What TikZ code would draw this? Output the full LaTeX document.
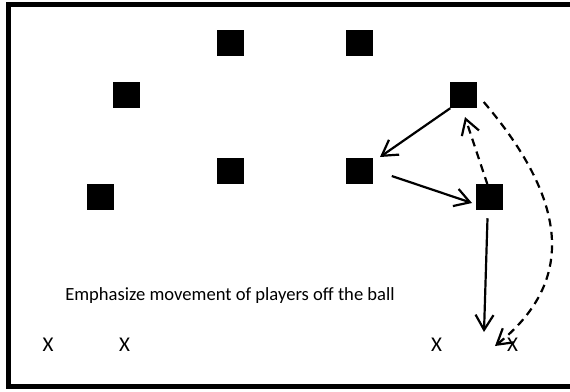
\documentclass[tikz,border=0pt]{standalone}
\usepackage{fontspec}
\setmainfont{Carlito}
\usetikzlibrary{arrows.meta}
\begin{document}
\begin{tikzpicture}[x=1pt,y=-1pt,
  player/.style={fill=black,draw=none,minimum size=26.5pt,inner sep=0pt,outer sep=0pt},
  oppmark/.style={font=\fontsize{21}{21}\selectfont,inner sep=0pt},
  run/.style={line width=2.2pt,-{Straight Barb[length=15pt,width=18pt,line width=2.2pt]}},
  rund/.style={run,dash pattern=on 8pt off 5.5pt}]
  \useasboundingbox (0,0) rectangle (570,391);
  \clip (0,0) rectangle (570,391);
  % field boundary, open on the right
  \draw[line width=5pt] (620,4.5) -- (8.5,4.5) -- (8.5,386.5) -- (620,386.5);

  % players
  \node[player] (p1) at (230.5,43) {};
  \node[player] (p2) at (359.5,43) {};
  \node[player] (p3) at (126.5,95) {};
  \node[player] (p6) at (463.5,95) {};
  \node[player] (p4) at (230.5,171) {};
  \node[player] (p5) at (359.5,171) {};
  \node[player] (p7) at (100.5,197) {};
  \node[player] (p8) at (489.5,197) {};

  % opponents
  \node[oppmark] (x1) at (48,345) {X};
  \node[oppmark] (x2) at (124.5,345) {X};
  \node[oppmark] (x3) at (436.5,345) {X};
  \node[oppmark] (x4) at (512.5,345) {X};

  \node[font=\fontsize{18.6}{18.6}\selectfont] (cap) at (230,296) {Emphasize movement of players off the ball};

  % end points of the runs
  \coordinate (e1) at (380,157);
  \coordinate (e2) at (472,203);
  \coordinate (e3) at (465,117);
  \coordinate (e4) at (484,332);
  \coordinate (e5) at (495,346);

  % passes and runs
  \draw[run] (p6.south west) -- (e1);
  \draw[run] ([shift={(19,5)}]p5.east) -- (e2);
  \draw[rund] ([shift={(-2,1)}]p8.north) -- (e3);
  \draw[run] ([shift={(-2,8)}]p8.south) -- (e4);
  \draw[rund] ([shift={(7,7)}]p6.east) .. controls (580,215) and (565,290) .. (e5);
\end{tikzpicture}
\end{document}
